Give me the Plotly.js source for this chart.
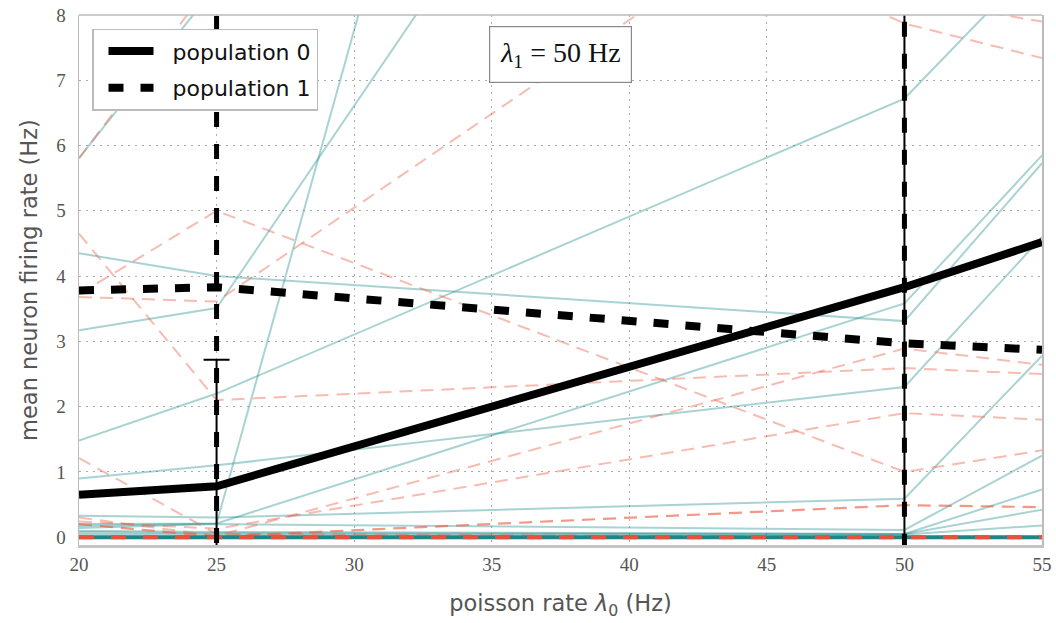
<!DOCTYPE html>
<html>
<head>
<meta charset="utf-8">
<script src="https://cdn.plot.ly/plotly-3.0.1.min.js"></script>
<style>
  html, body { margin: 0; padding: 0; background: #fff; }
  #chart { width: 1056px; height: 623px; }
</style>
</head>
<body>
<div id="chart"></div>
<script>
// Poisson input rates of population 0 (Hz) at which firing rates were sampled
const rateX = [20, 25, 50, 55];

// Population mean firing rates (Hz)
const pop0Mean = [0.65, 0.78, 3.83, 4.52];
const pop1Mean = [3.78, 3.83, 2.97, 2.87];

// Standard deviation across neurons at the simulated rates
const errX = [25, 50];
const pop0Sd = [1.94, 5.0];
const pop1Sd = [4.9, 5.6];

// Individual neurons of population 0 (rate at each rateX)
const pop0Neurons = [
  [5.81, 8.45, 14.0, 15.0],
  [4.35, 4.00, 3.31, 5.73],
  [3.17, 3.51, 19.0, 22.0],
  [1.48, 2.20, 6.72, 8.90],
  [0.90, 1.10, 2.30, 4.60],
  [0.20, 0.21, 3.58, 5.85],
  [0.33, 0.30, 0.59, 2.78],
  [0.14, 0.20, 0.11, 1.25],
  [0.17, 0.21, 38.0, 40.0],
  [0.10, 0.08, 0.05, 0.73],
  [0.08, 0.06, 0.05, 0.42],
  [0.05, 0.04, 0.04, 0.18]
];

// Individual neurons of population 1
const pop1Neurons = [
  [5.80, 8.60, 14.0, 15.0],
  [4.65, 2.10, 2.59, 2.50],
  [3.72, 5.00, 1.00, 1.33],
  [3.68, 3.61, 10.8, 11.0],
  [14.0, 12.6, 7.87, 7.34],
  [13.0, 11.0, 8.25, 7.90],
  [0.30, 0.02, 2.89, 2.64],
  [0.24, 0.13, 1.90, 1.80],
  [1.21, 0.05, 0.00, 0.00]
];
const pop1Faint = [0.20, 0.01, 0.49, 0.46];

// Silent neurons (many overlapping at zero)
const pop0Silent = [0, 0, 0, 0];
const pop1Silent = [0, 0, 0, 0];

const teal = 'rgba(30,140,140,0.38)';
const salmon = 'rgba(236,96,70,0.42)';

const traces = [];

pop0Neurons.forEach(v => traces.push({
  x: rateX, y: v, mode: 'lines', showlegend: false, hoverinfo: 'skip',
  line: {color: teal, width: 2}
}));
pop1Neurons.forEach(v => traces.push({
  x: rateX, y: v, mode: 'lines', showlegend: false, hoverinfo: 'skip',
  line: {color: salmon, width: 2, dash: '13px,8px'}
}));
traces.push({
  x: rateX, y: pop1Faint, mode: 'lines', showlegend: false, hoverinfo: 'skip',
  line: {color: 'rgba(236,96,70,0.65)', width: 2.2, dash: '13px,8px'}
});
traces.push({
  x: rateX, y: pop0Silent, mode: 'lines', showlegend: false, hoverinfo: 'skip',
  line: {color: 'rgb(28,134,134)', width: 4}
});
traces.push({
  x: rateX, y: pop1Silent, mode: 'lines', showlegend: false, hoverinfo: 'skip',
  line: {color: 'rgb(226,84,56)', width: 4, dash: '15px,17px'}
});

// Mean lines
traces.push({
  x: rateX, y: pop0Mean, mode: 'lines', name: '\u00a0\u00a0population 0',
  legendgroup: 'p0', hoverinfo: 'skip',
  line: {color: '#000', width: 8}
});
traces.push({
  x: rateX, y: pop1Mean, mode: 'lines', name: '\u00a0\u00a0population 1',
  legendgroup: 'p1', hoverinfo: 'skip',
  line: {color: '#000', width: 8, dash: '15px,17px'}
});

// Spread of population 0 (solid bars with caps)
traces.push({
  x: errX, y: errX.map(x => pop0Mean[rateX.indexOf(x)]),
  mode: 'markers', marker: {size: 1, opacity: 0}, showlegend: false, hoverinfo: 'skip',
  error_y: {type: 'data', array: pop0Sd, visible: true, color: '#000', thickness: 2, width: 13}
});

// Spread of population 1 (dashed bars)
const ebX = [], ebY = [];
errX.forEach((x, i) => {
  const m = pop1Mean[rateX.indexOf(x)];
  ebX.push(x, x, null);
  ebY.push(m - pop1Sd[i], m + pop1Sd[i], null);
});
traces.push({
  x: ebX, y: ebY, mode: 'lines', showlegend: false, hoverinfo: 'skip',
  line: {color: '#000', width: 5, dash: '15px,17px'}
});

const tickFont = {family: 'Liberation Serif, DejaVu Serif, serif', size: 19, color: '#555'};
const titleFont = {family: 'DejaVu Sans, sans-serif', size: 22.5, color: '#555'};

const layout = {
  width: 1056, height: 623,
  margin: {l: 79, r: 14, t: 15, b: 78},
  paper_bgcolor: '#fff', plot_bgcolor: '#fff',
  xaxis: {
    range: [20, 55], tickvals: [20, 25, 30, 35, 40, 45, 50, 55],
    showgrid: true, gridcolor: '#aaa', griddash: '2px,5px', gridwidth: 1,
    zeroline: false, showline: true, linecolor: '#c4c4c4', linewidth: 3,
    ticks: '', tickfont: tickFont, automargin: false,
    title: {text: 'poisson rate <i>λ</i><sub>0</sub> (Hz)', font: titleFont, standoff: 22}
  },
  yaxis: {
    range: [-0.12, 8], tickvals: [0, 1, 2, 3, 4, 5, 6, 7, 8],
    showgrid: true, gridcolor: '#aaa', griddash: '2px,5px', gridwidth: 1,
    zeroline: false, showline: true, mirror: true, linecolor: '#bbb', linewidth: 1.5,
    ticks: '', tickfont: tickFont, automargin: false, ticklabelstandoff: 8,
    title: {text: 'mean neuron firing rate (Hz)', font: titleFont, standoff: 12}
  },
  shapes: [{
    type: 'line', xref: 'paper', yref: 'paper', x0: 0, x1: 1, y0: 1, y1: 1,
    line: {color: '#bbb', width: 1.5}
  }],
  legend: {
    x: 0.0135, y: 0.974, xanchor: 'left', yanchor: 'top',
    bgcolor: '#fff', bordercolor: '#bbb', borderwidth: 1.5,
    font: {family: 'DejaVu Sans, sans-serif', size: 22, color: '#111'},
    itemwidth: 45, indentation: 10, tracegroupgap: 5
  },
  annotations: [{
    xref: 'paper', yref: 'paper', x: 0.5, y: 0.926,
    xanchor: 'center', yanchor: 'middle', showarrow: false,
    text: '<i>λ</i><sub>1</sub> = 50 Hz',
    font: {family: 'Liberation Serif, DejaVu Serif, serif', size: 28, color: '#111'},
    bgcolor: '#fff', bordercolor: '#888', borderwidth: 1.2, borderpad: 10
  }]
};

Plotly.newPlot('chart', traces, layout, {staticPlot: true, displayModeBar: false});
</script>
</body>
</html>
